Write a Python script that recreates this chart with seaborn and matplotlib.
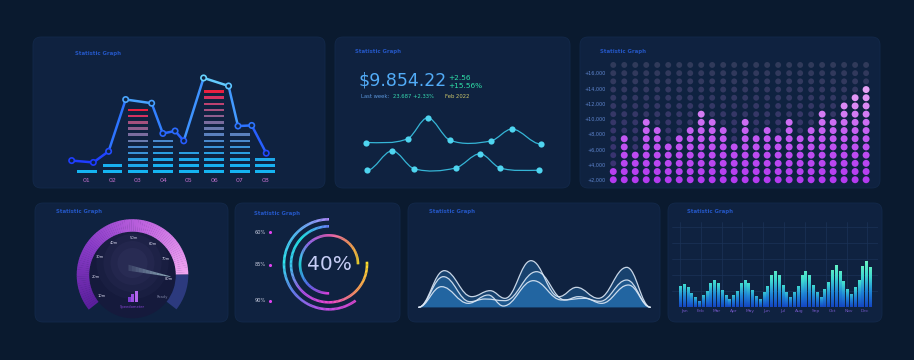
import numpy as np
import pandas as pd
import matplotlib
matplotlib.use("Agg")
import matplotlib.pyplot as plt
import seaborn as sns
from matplotlib.patches import FancyBboxPatch, Wedge, Circle, Polygon, PathPatch, Rectangle
from matplotlib.path import Path
from matplotlib.collections import LineCollection
from matplotlib.colors import LinearSegmentedColormap

# ---------------- data ----------------
# panel 1: stacked dash columns with a line on top
p1_labels = ['01', '02', '03', '04', '05', '06', '07', '08']
p1_blocks = [1, 2, 11, 6, 4, 14, 7, 3]
p1_line_x = [-0.6, 0.25, 0.85, 1.52, 2.54, 2.98, 3.46, 3.80, 4.58, 5.56, 5.93, 6.47, 7.04]
p1_line_y = [2.8, 2.5, 4.3, 12.7, 12.1, 7.2, 7.6, 6.0, 16.2, 14.9, 8.4, 8.5, 4.0]

# panel 2: balance card
p2_amount = '$9.854.22'
p2_delta = ['+2.56', '+15.56%']
p2_week_label = 'Last week:'
p2_week_value = '23.687 +2.33%'
p2_date = 'Feb 2022'
p2_top_x = [5.6, 27.0, 37.3, 48.7, 69.6, 80.7, 95.2]
p2_top_y = [50, 55, 83, 53, 52, 68, 48]
p2_bot_x = [6.3, 19.0, 30.3, 51.6, 64.1, 74.4, 94.4]
p2_bot_y = [13, 39, 15, 16, 35, 16, 13]

# panel 3: dot matrix
p3_filled = [2, 6, 4, 8, 7, 5, 6, 7, 9, 8, 7, 5, 8, 6, 7, 6, 8, 6, 7, 9, 8, 10, 11, 12]
p3_rows = 15
p3_tick_labels = ['+2,000', '+4,000', '+6,000', '+8,000', '+10,000', '+12,000', '+14,000', '+16,000']

# panel 4: gauge
p4_value = 0.85
p4_labels = ['10m', '20m', '30m', '40m', '50m', '60m', '70m', '80m', 'Ready']
p4_caption = 'Speedometer'

# panel 5: rings
p5_center_text = '40%'
p5_legend = ['60%', '85%', '90%']
p5_ring_pct = [60, 76, 75]

# panel 6: waves
p6_a_x = [0, 11.2, 23.0, 30.9, 37.3, 48.5, 60.5, 68.1, 77.5, 89.7, 100]
p6_a_y = [0, 110, 32, 50, 27, 140, 32, 60, 27, 120, 0]
p6_b_x = [0, 10.8, 22.2, 28.7, 37.3, 50.9, 63.1, 68.9, 78.2, 89.7, 100]
p6_b_y = [0, 92, 17, 25, 20, 107, 22, 32, 18, 82, 0]
p6_c_x = [0, 10.0, 21.5, 30.1, 36.6, 49.5, 61.7, 71.7, 78.9, 90.4, 100]
p6_c_y = [0, 62, 12, 37, 4, 80, 22, 27, 12, 67, 0]

# panel 7: monthly bars
p7_heights = [64, 70, 62, 44, 30, 20, 36, 50, 74, 82, 72, 52, 36, 24, 36, 50, 74, 82, 72, 52,
              35, 24, 46, 64, 96, 110, 96, 68, 46, 32, 46, 64, 96, 110, 96, 68, 46, 32, 54, 76,
              112, 126, 110, 78, 54, 40, 60, 82, 124, 140, 122]
p7_months = ['Jan', 'Feb', 'Mar', 'Apr', 'May', 'Jun', 'Jul', 'Aug', 'Sep', 'Oct', 'Nov', 'Dec']

# ---------------- style ----------------
W, H = 914, 360
BG = '#0a1a2f'
PANEL = '#0f2240'
TITLE = '#2456c4'

sns.set_theme(style='dark', rc={'axes.facecolor': 'none', 'figure.facecolor': BG})
plt.rcParams['font.family'] = ['DejaVu Sans']

fig = plt.figure(figsize=(W / 100, H / 100), dpi=100)
bg = fig.add_axes([0, 0, 1, 1])
bg.set_xlim(0, W)
bg.set_ylim(H, 0)
bg.axis('off')

panels = [(33, 37, 325, 188), (335, 37, 570, 188), (580, 37, 880, 188),
          (35, 203, 228, 322), (235, 203, 400, 322), (408, 203, 660, 322), (668, 203, 882, 322)]
titles = [(75, 53), (355, 52), (600, 52), (56, 212), (254, 213), (429, 211), (687, 212)]
for (x0, y0, x1, y1), (tx, ty) in zip(panels, titles):
    bg.add_patch(FancyBboxPatch((x0, y0), x1 - x0, y1 - y0, boxstyle='round,pad=0,rounding_size=8',
                                fc=PANEL, ec='#13294a', lw=0.6))
    bg.text(tx, ty, 'Statistic Graph', fontsize=3.9, color=TITLE, fontweight='bold', va='center')


def add_ax(x0, y0, x1, y1):
    ax = fig.add_axes([x0 / W, 1 - y1 / H, (x1 - x0) / W, (y1 - y0) / H])
    ax.set_facecolor('none')
    return ax


def hide_frame(ax):
    for s in ax.spines.values():
        s.set_visible(False)


def smooth_path(xs, ys, k=0.0, base=None, f=0.36):
    xs = np.asarray(xs, float)
    ys = np.asarray(ys, float)
    m = np.zeros(len(xs))
    m[1:-1] = k * (ys[2:] - ys[:-2]) / (xs[2:] - xs[:-2])
    verts, codes = [(xs[0], ys[0])], [Path.MOVETO]
    for i in range(len(xs) - 1):
        d = (xs[i + 1] - xs[i]) * f
        verts += [(xs[i] + d, ys[i] + m[i] * d), (xs[i + 1] - d, ys[i + 1] - m[i + 1] * d), (xs[i + 1], ys[i + 1])]
        codes += [Path.CURVE4] * 3
    if base is not None:
        verts += [(xs[-1], base), (xs[0], base), (xs[0], base)]
        codes += [Path.LINETO, Path.LINETO, Path.CLOSEPOLY]
    return Path(verts, codes)


# ---------------- panel 1 ----------------
ax1 = add_ax(61.5, 73, 290.7, 176)
lvl_colors = ['#15b4f2', '#18b0f0', '#1ea8ea', '#2a9ee2', '#3a92d8', '#4a88cc', '#5a80bd',
              '#6a7aae', '#7a6c9e', '#8e5e8e', '#a5507e', '#bd4270', '#d53260', '#ea2040']
seg = pd.DataFrame([(i, lvl) for i, n in enumerate(p1_blocks) for lvl in range(1, n + 1)],
                   columns=['col', 'level'])
seg['color'] = [lvl_colors[(lv if p1_blocks[c] <= 8 else round(lv * 14 / p1_blocks[c])) - 1]
                for c, lv in zip(seg['col'], seg['level'])]
ax1.bar(seg['col'], 0.4, bottom=seg['level'] - 0.2, width=0.78, color=seg['color'], lw=0)

pts = np.column_stack([p1_line_x, p1_line_y])
line_cmap = LinearSegmentedColormap.from_list('l1', ['#1d36ff', '#2f7bff', '#6ad8ff'])
norm1 = plt.Normalize(2, 16.5)
segs = np.stack([pts[:-1], pts[1:]], axis=1)
lc = LineCollection(segs, colors=line_cmap(norm1((pts[:-1, 1] + pts[1:, 1]) / 2)),
                    linewidths=1.8, capstyle='round', zorder=4)
ax1.add_collection(lc)
ax1.scatter(p1_line_x, p1_line_y, s=15, facecolor=PANEL, edgecolor=line_cmap(norm1(pts[:, 1])),
            linewidths=1.2, zorder=5)
ax1.set_xlim(-1, 8)
ax1.set_ylim(0.3, 17)
ax1.set_xticks(range(len(p1_labels)), p1_labels)
ax1.set_yticks([])
ax1.tick_params(axis='x', length=0, pad=1.5, labelsize=4.5, labelcolor='#c070cc')
hide_frame(ax1)

# ---------------- panel 2 ----------------
bg.text(359, 85, p2_amount, fontsize=12.5, color='#52acf7', va='baseline')
bg.text(448, 79.5, p2_delta[0], fontsize=5.3, color='#2fe0a8', va='baseline')
bg.text(448, 88.5, p2_delta[1], fontsize=5.3, color='#2fe0a8', va='baseline')
bg.text(361, 98.5, p2_week_label, fontsize=3.8, color='#5b97dd', va='baseline')
bg.text(393, 98.5, p2_week_value, fontsize=3.8, color='#37d9b0', va='baseline')
bg.text(445, 98.5, p2_date, fontsize=3.8, color='#c9c46b', va='baseline')

ax2 = add_ax(355, 105, 550, 180)
for xs, ys in [(p2_top_x, p2_top_y), (p2_bot_x, p2_bot_y)]:
    ax2.add_patch(PathPatch(smooth_path(xs, ys, k=1.0, f=1 / 3), fill=False, ec='#35b5d6', lw=0.9))
    sns.scatterplot(x=xs, y=ys, ax=ax2, s=20, color='#4fd5f0', linewidth=0, zorder=3)
ax2.set_xlim(0, 100)
ax2.set_ylim(0, 100)
ax2.axis('off')

# ---------------- panel 3 ----------------
ax3 = add_ax(607, 58.4, 876, 186.3)
dots = pd.DataFrame([(c + 1, r, r <= p3_filled[c]) for c in range(len(p3_filled))
                     for r in range(1, p3_rows + 1)], columns=['col', 'row', 'lit'])
dim_cmap = LinearSegmentedColormap.from_list('dim', ['#3c3276', '#303a5a'])
lit_cmap = LinearSegmentedColormap.from_list('lit', ['#b43af0', '#c45af2', '#e6a2f4'])
sns.scatterplot(data=dots[~dots['lit']], x='col', y='row', hue='row', palette=dim_cmap,
                hue_norm=(1, p3_rows), s=18, linewidth=0, legend=False, ax=ax3)
sns.scatterplot(data=dots[dots['lit']], x='col', y='row', hue='row', palette=lit_cmap,
                hue_norm=(1, 12), s=25, linewidth=0, legend=False, ax=ax3)
ax3.set_xlim(0.43, 24.9)
ax3.set_ylim(0.2, 15.8)
ax3.set_yticks(np.linspace(1, 14, len(p3_tick_labels)), p3_tick_labels)
ax3.set_xticks([])
ax3.set_xlabel('')
ax3.set_ylabel('')
ax3.tick_params(axis='y', length=0, pad=1, labelsize=3.5, labelcolor='#5f86cf')
hide_frame(ax3)

# ---------------- panel 4 ----------------
ax4 = add_ax(35, 203, 228, 322)
ax4.set_xlim(-97.5, 95.5)
ax4.set_ylim(-47, 72)
ax4.axis('off')
R, RW = 55.8, 12.5
start, span = 218, 256
end = start - p4_value * span
ax4.add_patch(Circle((0, 0), R - RW, color='#151a3c', lw=0))
for r, a in [(36, 0.05), (29, 0.06), (22, 0.06), (15, 0.07)]:
    ax4.add_patch(Circle((0, 12), r, color='#7470b0', alpha=a, lw=0))
g_cmap = LinearSegmentedColormap.from_list('g', ['#5a1f9c', '#8a3cc8', '#c266e0', '#f2a6f2'])
angles = np.linspace(end, start, 90)
for a0, a1 in zip(angles[:-1], angles[1:]):
    t = ((a0 + a1) / 2 - start) / (end - start)
    ax4.add_patch(Wedge((0, 0), R, a0, a1 + 0.4, width=RW, color=g_cmap(t), lw=0))
ax4.add_patch(Wedge((0, 0), R, start - span, end, width=RW, color='#2c3a7e', lw=0))
for a, lab in zip(np.linspace(214, -37, len(p4_labels)), p4_labels):
    col = '#7a80a0' if lab == p4_labels[-1] else '#d8d8ee'
    ax4.text(37 * np.cos(np.radians(a)), 37 * np.sin(np.radians(a)), lab, fontsize=2.6,
             color=col, ha='center', va='center')
# needle
tip = np.radians(end - 3)
base = np.array([-4.0, 6.5])
tipxy = 38 * np.array([np.cos(tip), np.sin(tip)])
n_pieces = 12
for k in range(n_pieces):
    f0, f1 = k / n_pieces, (k + 1) / n_pieces
    p0 = base + (tipxy - base) * f0
    p1 = base + (tipxy - base) * f1
    w0, w1 = 3.4 * (1 - f0) + 0.4, 3.4 * (1 - f1) + 0.4
    ax4.add_patch(Polygon([p0 + [0, w0], p1 + [0, w1], p1 - [0, w1 * 0.6], p0 - [0, w0 * 0.6]],
                          closed=True, color='#c8f0f8', alpha=0.08 + 0.6 * f1, lw=0))
# icon and caption
for (x, h, c) in [(-5, 5, '#7a3ad0'), (-1.5, 8, '#9b4fe0'), (2, 11, '#b366ee')]:
    ax4.add_patch(Rectangle((x, -27), 3, h, color=c, lw=0))
ax4.text(0, -32, p4_caption, fontsize=2.6, color='#8a45d6', ha='center', va='center')

# ---------------- panel 5 ----------------
ax5 = add_ax(235, 203, 400, 322)
ax5.set_xlim(-94, 71)
ax5.set_ylim(-57.7, 61.3)
ax5.axis('off')
ring_specs = [(45, 90, ['#b08cff', '#5ab8f8', '#2ee6ee', '#6a7cf2', '#c050e8', '#d848d0']),
              (38, 90, ['#6a84ff', '#22e8e8', '#3cc8f0', '#b050ea', '#f045d0', '#ff9a5a', '#ffe02a']),
              (29, 0, ['#ffe02a', '#ff9a5a', '#f060c0', '#9a6cf5', '#20e8e8', '#5a6cf5', '#e040e0'])]
for (r, a_start, cols), pct in zip(ring_specs, p5_ring_pct):
    cm = LinearSegmentedColormap.from_list('r', cols)
    a_end = a_start + pct * 3.6
    angs = np.linspace(a_start, a_end, 140)
    for i, (a0, a1) in enumerate(zip(angs[:-1], angs[1:])):
        ax5.add_patch(Wedge((0, 0), r + 1.3, a0, a1 + 0.3, width=2.6, color=cm(i / 138), lw=0))
ax5.text(0, 0, p5_center_text, fontsize=14.5, color='#c6cdf5', ha='center', va='center')
leg_y = [32, -0.7, -36.7]
for y, lab in zip(leg_y, p5_legend):
    ax5.text(-68.5, y, lab, fontsize=3.6, color='#c8cde0', ha='center', va='center')
ax5.scatter([-59.3] * len(leg_y), leg_y, s=5, color='#e042f0', linewidth=0)

# ---------------- panel 6 ----------------
ax6 = add_ax(418.3, 230, 650.7, 308)
ax6.set_xlim(0, 100)
ax6.set_ylim(-2, 232)
ax6.axis('off')
waves = [(p6_a_x, p6_a_y), (p6_b_x, p6_b_y), (p6_c_x, p6_c_y)]
for xs, ys in waves:
    ax6.add_patch(PathPatch(smooth_path(xs, ys, base=0, f=0.4), fc='#2b84cc', alpha=0.33, lw=0))
for xs, ys in waves:
    ax6.add_patch(PathPatch(smooth_path(xs, ys, f=0.4), fill=False, ec='#dce8f6', lw=0.9, alpha=0.9))

# ---------------- panel 7 ----------------
ax7 = add_ax(672, 222, 878, 307.3)
bars = pd.DataFrame({'i': range(len(p7_heights)), 'h': p7_heights})
sns.barplot(data=bars, x='i', y='h', color='#1a6ad0', width=0.55, saturation=1, linewidth=0, ax=ax7)
bar_cmap = LinearSegmentedColormap.from_list('b', ['#1446c2', '#1f84d6', '#3dd6d2', '#6cf6c0'])
hmax = max(p7_heights)
for p in list(ax7.patches):
    x0, w, h = p.get_x(), p.get_width(), p.get_height()
    yy = np.linspace(0, 1, 64)
    img = bar_cmap(0.45 * yy + 0.55 * yy * h / hmax)[:, None, :]
    im = ax7.imshow(img, extent=(x0, x0 + w, 0, h), origin='lower', aspect='auto',
                    zorder=3, interpolation='bilinear')
    im.set_clip_path(p)
ax7.set_xlim(-2.1, len(p7_heights) + 1.1)
ax7.set_ylim(0, 256)
ax7.set_xticks(np.linspace(1.1, 48.7, len(p7_months)), p7_months)
ax7.set_xticks(np.arange(0, len(p7_heights), 5.48), minor=True)
ax7.set_yticks([50, 97, 145, 193, 241])
ax7.set_yticklabels([])
ax7.set_axisbelow(True)
ax7.grid(True, which='minor', axis='x', color='#1b3357', lw=0.5)
ax7.grid(True, which='major', axis='y', color='#1b3357', lw=0.5)
ax7.tick_params(which='both', length=0)
ax7.tick_params(axis='x', pad=1.5, labelsize=3.2, labelcolor='#7458c8')
ax7.set_xlabel('')
ax7.set_ylabel('')
hide_frame(ax7)

fig.savefig('out.png', dpi=100, facecolor=BG)
